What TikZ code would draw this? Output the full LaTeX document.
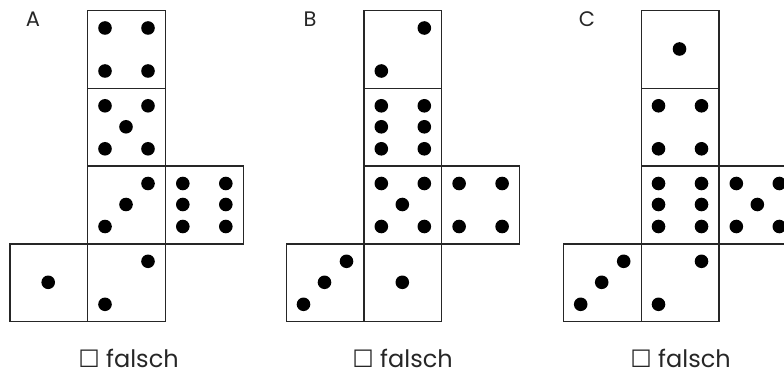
\documentclass[tikz,border=0pt]{standalone}
\usepackage{fontspec}
\usetikzlibrary{calc}
\setmainfont{Poppins}
\newfontfamily\symfont{DejaVu Sans}
\begin{document}
\begin{tikzpicture}[x=1pt,y=-1pt,
  face/.style={draw=black!85,line width=1.3pt,rectangle,minimum size=77.8pt,inner sep=0pt,anchor=north west},
  pip/.style={fill=black},
  letter/.style={font=\fontsize{21}{21}\selectfont,text=black!85},
  answer/.style={font=\fontsize{24}{24}\selectfont,text=black!85}]
\useasboundingbox (0,0) rectangle (784,374);
\def\pa{18}\def\pm{39}\def\pb{61}
% dot patterns
\def\one{\pm/\pm}
\def\two{\pb/\pa,\pa/\pb}
\def\three{\pb/\pa,\pm/\pm,\pa/\pb}
\def\four{\pa/\pa,\pb/\pa,\pa/\pb,\pb/\pb}
\def\five{\pa/\pa,\pb/\pa,\pa/\pb,\pb/\pb,\pm/\pm}
\def\six{\pa/\pa,\pb/\pa,\pa/\pm,\pb/\pm,\pa/\pb,\pb/\pb}
\newcommand\dieface[4]{%
  \node[face] (#1) at (#2,#3) {};
  \foreach \dx/\dy in #4 {\fill[pip] ($(#1.north west)+(\dx,\dy)$) circle (6.8pt);}
}
% Net A
\dieface{A1}{87}{10}{\four}
\dieface{A2}{87}{87.8}{\five}
\dieface{A3}{87}{165.5}{\three}
\dieface{A4}{87}{243.3}{\two}
\dieface{A5}{164.8}{165.5}{\six}
\dieface{A6}{9.2}{243.3}{\one}
% Net B
\dieface{B1}{363.3}{10}{\two}
\dieface{B2}{363.3}{87.8}{\six}
\dieface{B3}{363.3}{165.5}{\five}
\dieface{B4}{363.3}{243.3}{\one}
\dieface{B5}{441.1}{165.5}{\four}
\dieface{B6}{285.5}{243.3}{\three}
% Net C
\dieface{C1}{640.5}{10}{\one}
\dieface{C2}{640.5}{87.8}{\four}
\dieface{C3}{640.5}{165.5}{\six}
\dieface{C4}{640.5}{243.3}{\two}
\dieface{C5}{718.3}{165.5}{\five}
\dieface{C6}{562.7}{243.3}{\three}
% labels
\node[letter] (LA) at (33,19.5) {A};
\node[letter] (LB) at (310,19.5) {B};
\node[letter] (LC) at (587,19.5) {C};
\node[answer] (FA) at (128.5,358) {{\symfont ☐} falsch};
\node[answer] (FB) at (402.5,358) {{\symfont ☐} falsch};
\node[answer] (FC) at (680.5,358) {{\symfont ☐} falsch};
\end{tikzpicture}
\end{document}
